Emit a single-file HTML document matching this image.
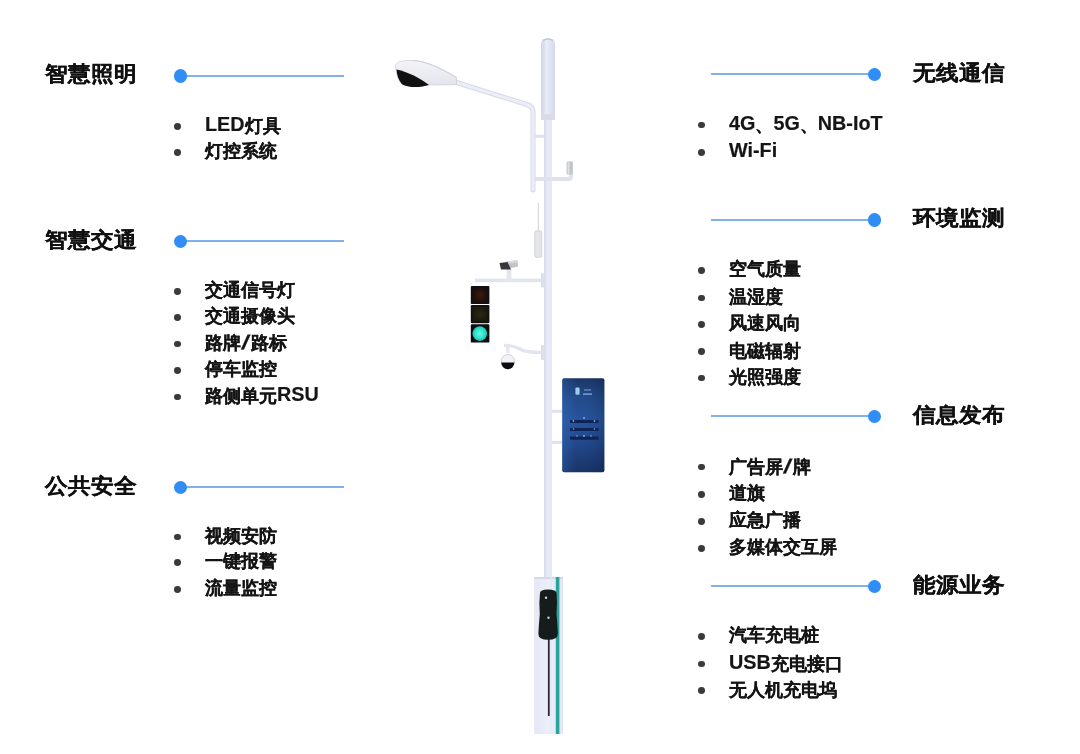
<!DOCTYPE html>
<html><head><meta charset="utf-8"><style>
html,body{margin:0;padding:0;background:#fff;}
body{filter:blur(0.4px);width:1080px;height:754px;position:relative;overflow:hidden;font-family:"Liberation Sans",sans-serif;}
.h{position:absolute;transform:scaleY(0.93);transform-origin:50% 55%;font-size:23px;line-height:23px;font-weight:700;color:#111;-webkit-text-stroke:0.25px #111;white-space:nowrap;}
.i{position:absolute;font-size:18.3px;line-height:18.3px;font-weight:700;color:#151515;-webkit-text-stroke:0.18px #151515;white-space:nowrap;}
.l{font-size:19.8px;position:relative;top:-1.2px;}
.sl{margin:0 2.2px 0 2.3px;font-size:20px;top:-0.2px;display:inline-block;transform:skewX(-12deg) scaleX(1.25);}
.b{position:absolute;width:6.8px;height:6.8px;border-radius:50%;background:#3a3a3a;}
.dot{position:absolute;width:13.2px;height:13.2px;border-radius:50%;background:#2f8df5;}
.ln{position:absolute;height:1.7px;background:#80b1ea;}
svg{position:absolute;left:0;top:0;}
</style></head><body>
<svg width="1080" height="754" viewBox="0 0 1080 754">
<defs>
<linearGradient id="pg" x1="0" x2="1" y1="0" y2="0">
<stop offset="0" stop-color="#d5d9ea"/><stop offset="0.45" stop-color="#e8ebf9"/><stop offset="1" stop-color="#e5e8f5"/>
</linearGradient>
<linearGradient id="cg" x1="0" x2="1" y1="0" y2="0">
<stop offset="0" stop-color="#d0d3e2"/><stop offset="0.4" stop-color="#e8ebfa"/><stop offset="1" stop-color="#d6d9e8"/>
</linearGradient>
<linearGradient id="bg" x1="0" x2="1" y1="0" y2="0">
<stop offset="0" stop-color="#e4e7f5"/><stop offset="0.5" stop-color="#eceefa"/><stop offset="1" stop-color="#e2e5f2"/>
</linearGradient>
<linearGradient id="sg" x1="0" x2="0" y1="0" y2="1">
<stop offset="0" stop-color="#1a3360"/><stop offset="0.2" stop-color="#214884"/><stop offset="0.45" stop-color="#27529a"/><stop offset="0.7" stop-color="#204585"/><stop offset="1" stop-color="#172f60"/>
</linearGradient>
<linearGradient id="sg2" x1="0" x2="1" y1="0" y2="0">
<stop offset="0" stop-color="#3c7ad8" stop-opacity="0.3"/><stop offset="0.35" stop-color="#3c7ad8" stop-opacity="0.05"/><stop offset="1" stop-color="#081838" stop-opacity="0.2"/>
</linearGradient>
<linearGradient id="hg" x1="0" x2="0" y1="0" y2="1">
<stop offset="0" stop-color="#f4f4f8"/><stop offset="1" stop-color="#e2e3ec"/>
</linearGradient>
<radialGradient id="rg" cx="0.5" cy="0.5" r="0.5">
<stop offset="0" stop-color="#3e1a10"/><stop offset="1" stop-color="#1a0e0c"/>
</radialGradient>
<radialGradient id="yg" cx="0.5" cy="0.5" r="0.5">
<stop offset="0" stop-color="#2c2a14"/><stop offset="1" stop-color="#18180e"/>
</radialGradient>
<radialGradient id="gg" cx="0.5" cy="0.5" r="0.5">
<stop offset="0" stop-color="#6ef2e2"/><stop offset="0.6" stop-color="#2ee6d0"/><stop offset="1" stop-color="#14c8b4"/>
</radialGradient>
</defs>
<!-- main pole -->
<rect x="544" y="115" width="8" height="465" fill="url(#pg)"/>
<!-- top cylinder -->
<path d="M541 120 L541 45 Q541 38 548 38 Q555 38 555 45 L555 120 Z" fill="url(#cg)"/>
<rect x="541" y="114" width="14" height="6" fill="#d9dce8"/>
<path d="M543 40.5 Q548 37.5 553 40.5" stroke="#c4c6d0" stroke-width="1.5" fill="none"/>
<!-- arm -->
<path d="M455 82 L527 104.5 Q533 106.5 533 112 L533 190" stroke="#d6d8e7" stroke-width="5" fill="none" stroke-linecap="round"/>
<path d="M455 82 L527 104.5 Q533 106.5 533 112 L533 190" stroke="#eceef7" stroke-width="3" fill="none" stroke-linecap="round"/>
<!-- lamp head -->
<path d="M395.5 66 C396 61.5 402 60.3 413 60.5 C428 61.5 442 69 456.5 77.5 L456.5 84.5 C445 85 435 85 428 84.8 C420 87.5 408 87.5 402 84 C398 80 395.8 72 395.5 66 Z" fill="url(#hg)" stroke="#d0d1dc" stroke-width="0.8"/>
<path d="M413 60.5 C428 61.5 442 69 456.5 77.5" stroke="#d2d3de" stroke-width="1.2" fill="none"/>
<path d="M396.5 69.5 C408 72 420 78 429 85 C420 87.8 408 87.8 402 84.2 C398.5 80.5 396.8 75 396.5 69.5 Z" fill="#111"/>
<!-- connectors -->
<rect x="535" y="134.8" width="9.5" height="3" fill="#dfe1ee"/>
<path d="M535 179 L568.5 179 Q571 179 571 176.5 L571 173" stroke="#dfe1ee" stroke-width="4" fill="none"/>
<rect x="566.5" y="161.3" width="6.6" height="13.5" rx="1.5" fill="#cdd0d0"/>
<rect x="568.3" y="162" width="1" height="12" fill="#e2e4e4"/>
<rect x="570.5" y="162" width="1" height="12" fill="#b4b8b8"/>
<!-- antenna -->
<rect x="537.8" y="203" width="1.2" height="28" fill="#d6d8de"/>
<rect x="534.8" y="230.8" width="7" height="26.5" rx="1.5" fill="#e3e5e8" stroke="#cfd1d6" stroke-width="0.8"/>
<!-- camera arm -->
<rect x="475" y="278.6" width="67" height="3.6" fill="#e1e3ef"/>
<rect x="541" y="273.3" width="3.5" height="14.3" rx="1" fill="#dcdfec"/>
<rect x="506.6" y="269" width="4.8" height="13" fill="#e4e6ee"/>
<path d="M506 261.5 L517.5 260.2 L518 266.5 L509 268.5 Z" fill="#c2c3c7"/>
<path d="M506 261.5 L517.5 260.2 L517.8 262.5 L507 263.8 Z" fill="#d8d9dc"/>
<path d="M499.5 263 L507.5 262 L511 269.4 L501 269.6 Z" fill="#38383c"/>
<!-- traffic light -->
<rect x="470.8" y="285.9" width="18.6" height="18.2" rx="1.2" fill="#101010"/>
<rect x="472.3" y="287.4" width="15.6" height="15.2" fill="url(#rg)"/>
<rect x="470.8" y="305.1" width="18.6" height="18.2" rx="1.2" fill="#101010"/>
<rect x="472.3" y="306.6" width="15.6" height="15.2" fill="url(#yg)"/>
<rect x="470.8" y="324.3" width="18.6" height="18.3" rx="1.2" fill="#0c0c0c"/>
<circle cx="479.8" cy="333.6" r="7.3" fill="url(#gg)"/>
<!-- dome arm -->
<path d="M504 345.5 Q512 345 520 349 Q526 352.5 541 352.5" stroke="#e2e4ef" stroke-width="3.2" fill="none"/>
<rect x="541" y="345" width="3.5" height="15" rx="1" fill="#dcdfec"/>
<rect x="506" y="347" width="3.5" height="6" fill="#e8e9f0"/>
<circle cx="507.8" cy="361" r="6.6" fill="#f3f3f6" stroke="#c9cad2" stroke-width="0.9"/>
<path d="M501.2 362.6 A6.6 6.6 0 0 0 514.4 362.6 Z" fill="#0e0e0e"/>
<!-- screen connectors -->
<rect x="552" y="409.8" width="10.5" height="3" fill="#dfe1ec"/>
<rect x="552" y="440.8" width="10.5" height="3" fill="#dfe1ec"/>
<!-- screen -->
<rect x="562.2" y="378.2" width="42.2" height="94" rx="2" fill="url(#sg)"/>
<rect x="562.2" y="378.2" width="42.2" height="94" rx="2" fill="url(#sg2)"/>
<rect x="575.4" y="387.4" width="4.2" height="7.3" rx="1" fill="#9ccaf0"/>
<rect x="584" y="389.5" width="7" height="1" fill="#7ea8d8"/>
<rect x="583" y="393.5" width="9" height="1.2" fill="#8fb8e4"/>
<rect x="570" y="420" width="28.5" height="3" fill="#0f2456"/>
<rect x="570" y="428" width="28.5" height="3" fill="#0f2456"/>
<rect x="570" y="436.5" width="28.5" height="3.2" fill="#0f2456"/>
<circle cx="584" cy="418" r="1" fill="#6ab0f0"/>
<circle cx="573.5" cy="421" r="0.9" fill="#6ab0f0"/>
<circle cx="594.5" cy="421" r="0.9" fill="#6ab0f0"/>
<circle cx="573.5" cy="429" r="0.8" fill="#6ab0f0"/>
<circle cx="594.5" cy="429" r="0.8" fill="#6ab0f0"/>
<circle cx="577" cy="436" r="0.8" fill="#6ab0f0"/>
<circle cx="584" cy="436" r="1" fill="#6ab0f0"/>
<circle cx="591" cy="436" r="0.8" fill="#6ab0f0"/>
<!-- base -->
<rect x="534.2" y="577" width="28.8" height="157" fill="url(#bg)"/>
<rect x="534.2" y="577" width="28.8" height="2" fill="#d6d8e4"/>
<rect x="550.5" y="577" width="1" height="157" fill="#d2f2f2"/>
<rect x="555.8" y="577" width="3.6" height="157" fill="#28a49c"/>
<rect x="547.9" y="636" width="1.8" height="80" fill="#3a2632"/>
<path d="M540 593 Q540 589.4 548 589.4 Q556.2 589.4 556.6 593 Q557.5 603 556.5 614 Q557.8 628 557.8 634 Q557.8 639.8 548 639.8 Q538.4 639.8 538.4 634 Q538.6 628 539.8 614 Q538.8 603 540 593 Z" fill="#161c1c"/>
<circle cx="546" cy="597.8" r="1.2" fill="#d0d4d4"/>
<circle cx="548.5" cy="617.8" r="1.2" fill="#c8cccc"/>
</svg>

<div class="h" style="left:45px;top:62.3px">智慧照明</div><div class="ln" style="left:181px;width:163px;top:75.15px"></div><div class="dot" style="left:174.0px;top:69.4px"></div><div class="b" style="left:173.8px;top:123.2px"></div><div class="i" style="left:205px;top:116.15px"><span class="l">LED</span>灯具</div><div class="b" style="left:173.8px;top:149.1px"></div><div class="i" style="left:205px;top:142.05px">灯控系统</div><div class="h" style="left:45px;top:227.6px">智慧交通</div><div class="ln" style="left:181px;width:163px;top:240.45px"></div><div class="dot" style="left:174.0px;top:234.7px"></div><div class="b" style="left:173.8px;top:288.3px"></div><div class="i" style="left:205px;top:281.25px">交通信号灯</div><div class="b" style="left:173.8px;top:314.4px"></div><div class="i" style="left:205px;top:307.35px">交通摄像头</div><div class="b" style="left:173.8px;top:340.5px"></div><div class="i" style="left:205px;top:333.45px">路牌<span class="l sl">/</span>路标</div><div class="b" style="left:173.8px;top:366.8px"></div><div class="i" style="left:205px;top:359.75px">停车监控</div><div class="b" style="left:173.8px;top:393.5px"></div><div class="i" style="left:205px;top:386.45px">路侧单元<span class="l">RSU</span></div><div class="h" style="left:45px;top:473.5px">公共安全</div><div class="ln" style="left:181px;width:163px;top:486.35px"></div><div class="dot" style="left:174.0px;top:480.6px"></div><div class="b" style="left:173.8px;top:533.6px"></div><div class="i" style="left:205px;top:526.55px">视频安防</div><div class="b" style="left:173.8px;top:559.4px"></div><div class="i" style="left:205px;top:552.35px">一键报警</div><div class="b" style="left:173.8px;top:586.0px"></div><div class="i" style="left:205px;top:578.95px">流量监控</div><div class="h" style="left:913px;top:60.5px">无线通信</div><div class="ln" style="left:711px;width:163px;top:73.35px"></div><div class="dot" style="left:867.65px;top:67.6px"></div><div class="b" style="left:697.8px;top:121.6px"></div><div class="i" style="left:729px;top:114.85px"><span class="l">4G</span>、<span class="l">5G</span>、<span class="l">NB-IoT</span></div><div class="b" style="left:697.8px;top:148.9px"></div><div class="i" style="left:729px;top:142.15px"><span class="l">Wi-Fi</span></div><div class="h" style="left:913px;top:206.3px">环境监测</div><div class="ln" style="left:711px;width:163px;top:219.15px"></div><div class="dot" style="left:867.65px;top:213.4px"></div><div class="b" style="left:697.8px;top:267.1px"></div><div class="i" style="left:729px;top:260.35px">空气质量</div><div class="b" style="left:697.8px;top:294.5px"></div><div class="i" style="left:729px;top:287.75px">温湿度</div><div class="b" style="left:697.8px;top:321.2px"></div><div class="i" style="left:729px;top:314.45px">风速风向</div><div class="b" style="left:697.8px;top:348.3px"></div><div class="i" style="left:729px;top:341.55px">电磁辐射</div><div class="b" style="left:697.8px;top:374.7px"></div><div class="i" style="left:729px;top:367.95px">光照强度</div><div class="h" style="left:913px;top:402.5px">信息发布</div><div class="ln" style="left:711px;width:163px;top:415.35px"></div><div class="dot" style="left:867.65px;top:409.6px"></div><div class="b" style="left:697.8px;top:463.5px"></div><div class="i" style="left:729px;top:456.75px">广告屏<span class="l sl">/</span>牌</div><div class="b" style="left:697.8px;top:491.1px"></div><div class="i" style="left:729px;top:484.35px">道旗</div><div class="b" style="left:697.8px;top:517.9px"></div><div class="i" style="left:729px;top:511.15px">应急广播</div><div class="b" style="left:697.8px;top:544.8px"></div><div class="i" style="left:729px;top:538.05px">多媒体交互屏</div><div class="h" style="left:913px;top:572.5px">能源业务</div><div class="ln" style="left:711px;width:163px;top:585.35px"></div><div class="dot" style="left:867.65px;top:579.6px"></div><div class="b" style="left:697.8px;top:632.9px"></div><div class="i" style="left:729px;top:626.15px">汽车充电桩</div><div class="b" style="left:697.8px;top:660.5px"></div><div class="i" style="left:729px;top:653.75px"><span class="l">USB</span>充电接口</div><div class="b" style="left:697.8px;top:687.4px"></div><div class="i" style="left:729px;top:680.65px">无人机充电坞</div>
</body></html>
